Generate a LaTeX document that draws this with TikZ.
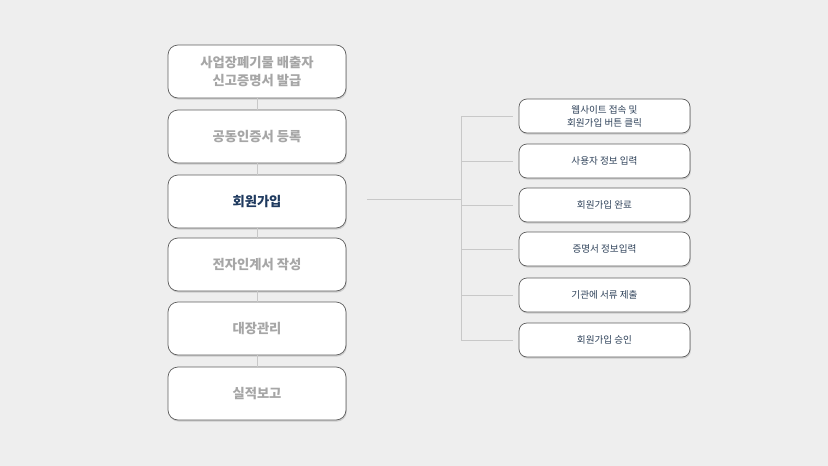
\documentclass[tikz,border=0pt]{standalone}
\usepackage{fontspec}
\setmainfont{Noto Sans CJK KR}
\usepackage{xcolor}
\usepackage{tikz}
\usetikzlibrary{positioning,calc,shadows}
\definecolor{pagegrey}{HTML}{EEEEEE}
\definecolor{framegrey}{HTML}{5E5E5E}
\definecolor{mutedgrey}{HTML}{A6A6A6}
\definecolor{activenavy}{HTML}{1F3A5F}
\definecolor{subnavy}{HTML}{2F425A}
\definecolor{wiregrey}{HTML}{C8C8C8}

\begin{document}
\begin{tikzpicture}[
    x=1pt, y=-1pt,
    every node/.style={align=center},
    card/.style={
      draw=framegrey, line width=0.7pt, rounded corners=10pt, fill=white,
      drop shadow={opacity=0.3, shadow xshift=0.8pt, shadow yshift=-1.6pt}
    },
    stage/.style={card, minimum width=178pt, minimum height=53pt,
      font=\fontsize{13.3}{18}\selectfont\bfseries, text=mutedgrey},
    current/.style={stage, text=activenavy},
    substep/.style={card, rounded corners=8pt, minimum width=171pt, minimum height=34pt,
      font=\fontsize{9.6}{13}\selectfont, text=subnavy},
    wire/.style={wiregrey, line width=0.7pt}
  ]

  % --- fond et cadre de la page ------------------------------------------
  \fill[pagegrey] (0,0) rectangle (828,466);
  \useasboundingbox (0,0) rectangle (828,466);

  % --- colonne de gauche : les etapes --------------------------------------
  \node[stage]   (reg)  at (257, 71.5) {사업장폐기물 배출자\\신고증명서 발급};
  \node[stage]   (cert) at (257,136.5) {공동인증서 등록};
  \node[current] (join) at (257,201.5) {회원가입};
  \node[stage]   (doc)  at (257,264.5) {전자인계서 작성};
  \node[stage]   (book) at (257,328.5) {대장관리};
  \node[stage]   (rep)  at (257,393.5) {실적보고};

  \foreach \a/\b in {reg/cert,cert/join,join/doc,doc/book,book/rep}
    {\draw[wire] (\a.south) -- (\b.north);}

  % --- colonne de droite : detail du « 회원가입 » --------------------------
  \node[substep] (s1) at (604.5,116) {웹사이트 접속 및\\회원가입 버튼 클릭};
  \node[substep] (s2) at (604.5,161) {사용자 정보 입력};
  \node[substep] (s3) at (604.5,205) {회원가입 완료};
  \node[substep] (s4) at (604.5,249) {증명서 정보입력};
  \node[substep] (s5) at (604.5,295) {기관에 서류 제출};
  \node[substep] (s6) at (604.5,340) {회원가입 승인};

  % --- accolade reliant l'etape a ses sous-etapes --------------------------
  \coordinate (tap)   at (367,199);
  \coordinate (trunk) at (461,199);
  \draw[wire] (tap) -- (trunk);
  \draw[wire] (trunk |- s1.west) -- (trunk |- s6.west);
  \foreach \n in {s1,s2,s3,s4,s5,s6}
    {\draw[wire, shorten >=6pt] (trunk |- \n.west) -- (\n.west);}

\end{tikzpicture}
\end{document}
